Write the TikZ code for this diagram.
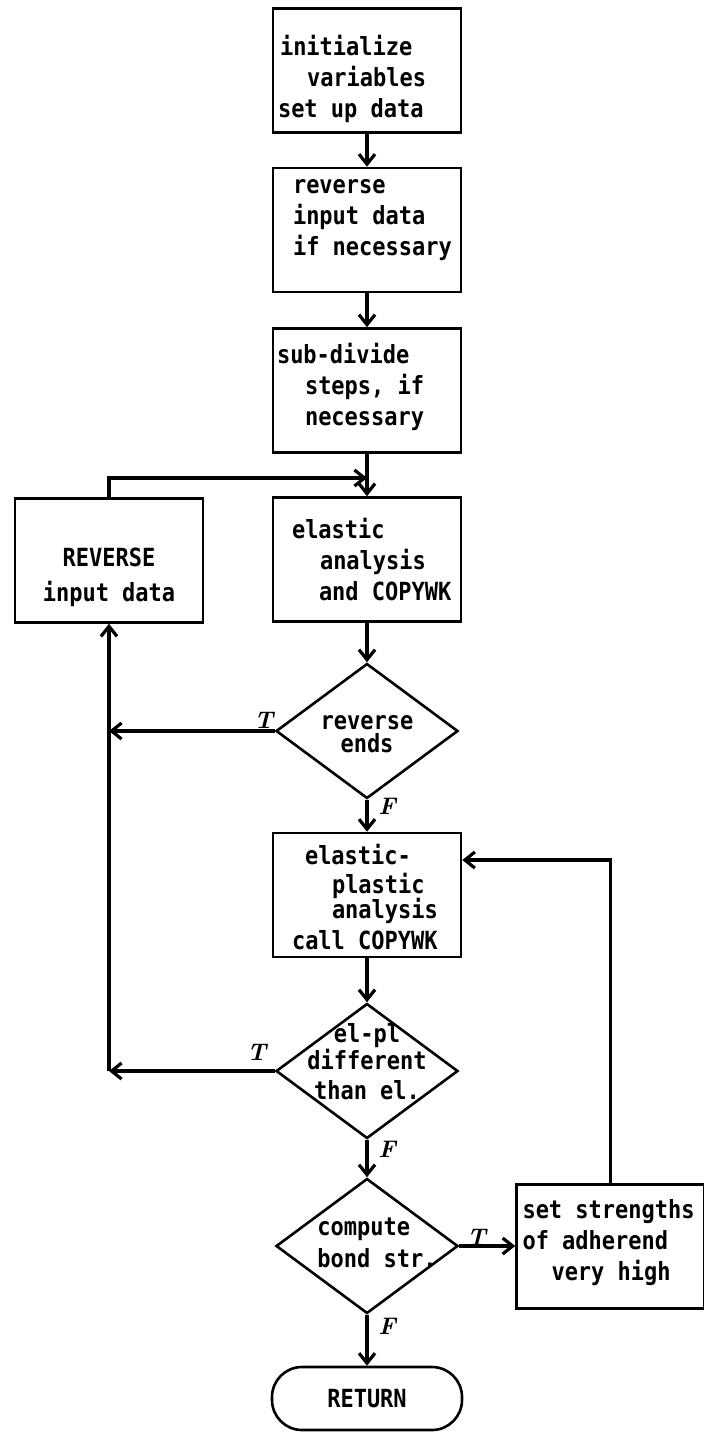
\documentclass[tikz,border=0pt]{standalone}
\usepackage{fontspec}
\setmainfont{DejaVu Sans Mono}[FakeStretch=0.88]
\newfontfamily\flagfont{Latin Modern Roman}
\usetikzlibrary{shapes.geometric,arrows.meta,positioning}
\tikzset{
  block/.style={draw, line width=1.3pt, minimum width=94pt, minimum height=62pt,
    inner sep=0pt, font=\fontsize{12.5}{15.5}\selectfont\bfseries},
  decision/.style={draw, diamond, line width=1.3pt, minimum width=91pt,
    minimum height=67.5pt, inner sep=0pt, font=\fontsize{12.5}{11.5}\selectfont\bfseries},
  terminal/.style={draw, line width=1.3pt, rounded corners=15pt, minimum width=95pt,
    minimum height=31.5pt, font=\fontsize{12.5}{13}\selectfont\bfseries},
  flow/.style={line width=1.6pt, -{Straight Barb[length=5pt,width=8pt]}},
  flag/.style={font=\flagfont\fontsize{12}{12}\selectfont\bfseries\itshape},
}
% box text: left aligned lines, raised by #1, not counted in the box size
\newcommand{\ind}[1]{\hspace*{#1pt}}
\newcommand{\btext}[2]{\smash{\makebox[0pt]{\raisebox{#1}{\parbox[c]{94pt}{\raggedright #2}}}}}
\newcommand{\dtext}[3][c]{\smash{\makebox[0pt]{\raisebox{#2}{\begin{tabular}{@{}#1@{}}#3\end{tabular}}}}}
\begin{document}
\begin{tikzpicture}[x=0.5pt,y=-0.5pt]
    \useasboundingbox (0,0) rectangle (704,1433);
    % main column
    \node[block] (init) at (367,70.5) {\btext{-7pt}{\ind{3.5}initialize\\\ind{17}variables\\\ind{2.5}set up data}};
    \node[block] (revdata) at (367,230) {\btext{2pt}{\ind{10}reverse\\\ind{10}input data\\\ind{10}if necessary}};
    \node[block] (subdiv) at (367,390.5) {\btext{-1.25pt}{\ind{2}sub-divide\\\ind{16}steps, if\\\ind{16}necessary}};
    \node[block] (elastic) at (367,559.5) {\btext{-3pt}{\ind{9.5}elastic\\\ind{23.5}analysis\\\ind{23}and COPYWK}};
    \node[block] (reverse) at (109,560.5) {\btext{-11.5pt}{\centering REVERSE\\[2pt]input data}};
    \node[decision] (revends) at (367,731) {\dtext{-5.75pt}{reverse\\[-1.5pt]ends}};
    \node[block] (elpl) at (367,895) {\btext{-4.25pt}{\ind{16}elastic-\\[-1pt]\ind{29.5}plastic\\[-3pt]\ind{29.5}analysis\\[0pt]\ind{9.5}call COPYWK}};
    \node[decision] (differ) at (367,1071) {\dtext{0pt}{el-pl\\[-0.5pt]different\\[2pt]than el.}};
    \node[decision] (bond) at (367,1246) {\dtext[l]{-3pt}{\ind{10}compute\\[3pt]\ind{10}bond str.}};
    \node[block] (strength) at (610.5,1246.5) {\btext{-1.25pt}{\ind{3}set strengths\\\ind{3}of adherend\\\ind{17.5}very high}};
    \node[terminal] (return) at (367,1398.5) {RETURN};
    \coordinate (merge) at (367,478);
    % T / F marks
    \node[flag] (t1) at ([shift={(-11,-11)}]revends.west) {T};
    \node[flag] (f1) at ([shift={(20,7)}]revends.south) {F};
    \node[flag] (t2) at ([shift={(-18,-19)}]differ.west) {T};
    \node[flag] (f2) at ([shift={(20,10)}]differ.south) {F};
    \node[flag] (t3) at ([shift={(17,-9)}]bond.east) {T};
    \node[flag] (f3) at ([shift={(20,12)}]bond.south) {F};
    % connectors
    \draw[flow] (init) -- (revdata);
    \draw[flow] (revdata) -- (subdiv);
    \draw[flow] (subdiv) -- (elastic);
    \draw[flow] (reverse.north) |- (merge);
    \draw[flow] (elastic) -- (revends);
    \draw[flow] (revends.west) -- (revends.west -| reverse.south);
    \draw[flow] (revends) -- (elpl);
    \draw[flow] (elpl) -- (differ);
    \draw[flow] (differ.west) -- (differ.west -| reverse.south);
    \draw[flow] (differ.west -| reverse.south) -- (reverse.south);
    \draw[flow] (differ) -- (bond);
    \draw[flow] (bond.east) -- (bond.east -| strength.west);
    \draw[flow] (strength.north) |- ([yshift=17.5pt]elpl.east);
    \draw[flow] (bond) -- (return);
\end{tikzpicture}
\end{document}
